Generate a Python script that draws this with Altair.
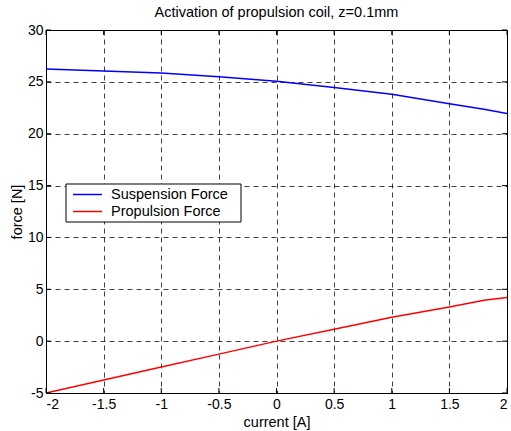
import altair as alt
import pandas as pd

# ---- data ----
current = [-2.0, -1.5, -1.0, -0.5, 0.0, 0.5, 1.0, 1.5, 1.8, 2.0]
suspension = [26.25, 26.05, 25.85, 25.5, 25.05, 24.45, 23.8, 22.9, 22.35, 21.95]
propulsion = [-5.0, -3.75, -2.5, -1.25, 0.0, 1.15, 2.3, 3.3, 3.94, 4.2]
series_names = ["Suspension Force", "Propulsion Force"]
series_colors = ["#0000FF", "#FF0000"]
x_ticks = [-2, -1.5, -1, -0.5, 0, 0.5, 1, 1.5, 2]
y_ticks = [-5, 0, 5, 10, 15, 20, 25, 30]
title_text = "Activation of propulsion coil, z=0.1mm"
x_title = "current [A]"
y_title = "force [N]"

W, H = 461, 363
FONT = "Liberation Sans"
FS = 14.5
LFS = 14

rows = []
for c, s, p in zip(current, suspension, propulsion):
    rows.append({"current": c, "force": s, "series": series_names[0]})
    rows.append({"current": c, "force": p, "series": series_names[1]})
df = pd.DataFrame(rows)

xs = alt.Scale(domain=[-2, 2], nice=False, zero=False)
ys = alt.Scale(domain=[-5, 30], nice=False, zero=False)

common_axis = dict(
    labelExpr="'' + datum.value", grid=True, gridDash=[5, 4], gridColor="#000",
    gridOpacity=0.75, tickSize=0, labelFont=FONT, titleFont=FONT, labelFontSize=LFS,
    titleFontSize=FS, labelColor="black", titleColor="black", titleFontWeight="normal",
    domainColor="black", domainWidth=1,
)

lines = alt.Chart(df).mark_line(strokeWidth=1.5, clip=True).encode(
    x=alt.X("current:Q", scale=xs,
            axis=alt.Axis(values=x_ticks, title=x_title, labelPadding=4, titlePadding=4,
                          **common_axis)),
    y=alt.Y("force:Q", scale=ys,
            axis=alt.Axis(values=y_ticks, title=y_title, labelPadding=3, titlePadding=3,
                          **common_axis)),
    color=alt.Color("series:N", scale=alt.Scale(domain=series_names, range=series_colors),
                    legend=None),
    detail="series:N",
)

xt = pd.DataFrame({"v": x_ticks})
yt = pd.DataFrame({"v": y_ticks})
tick_bottom = alt.Chart(xt).mark_rule(color="black").encode(
    x=alt.X("v:Q", scale=xs), y=alt.value(H), y2=alt.value(H - 5))
tick_top = alt.Chart(xt).mark_rule(color="black").encode(
    x=alt.X("v:Q", scale=xs), y=alt.value(0), y2=alt.value(5))
tick_left = alt.Chart(yt).mark_rule(color="black").encode(
    y=alt.Y("v:Q", scale=ys), x=alt.value(0), x2=alt.value(5))
tick_right = alt.Chart(yt).mark_rule(color="black").encode(
    y=alt.Y("v:Q", scale=ys), x=alt.value(W), x2=alt.value(W - 5))

# ---- legend box (MATLAB style) ----
lx0, lx1, ly0, ly1 = 20, 195, 154, 192
leg_df = pd.DataFrame({"name": series_names, "color": series_colors})
leg_box = alt.Chart(leg_df.head(1)).mark_rect(fill="white", stroke="black", strokeWidth=1).encode(
    x=alt.value(lx0), x2=alt.value(lx1), y=alt.value(ly0), y2=alt.value(ly1))
leg_layers = []
row_y = [164.5, 181.5]
for i, (n, c) in enumerate(zip(series_names, series_colors)):
    d = leg_df.iloc[[i]]
    leg_layers.append(alt.Chart(d).mark_rule(color=c, strokeWidth=1.5).encode(
        x=alt.value(27), x2=alt.value(56), y=alt.value(row_y[i])))
    leg_layers.append(alt.Chart(d).mark_text(align="left", baseline="middle", font=FONT,
                                             fontSize=FS, color="black").encode(
        x=alt.value(65), y=alt.value(row_y[i]), text="name:N"))

chart = alt.layer(lines, tick_bottom, tick_top, tick_left, tick_right, leg_box, *leg_layers).properties(
    width=W, height=H,
    background="white",
    title=alt.TitleParams(title_text, font=FONT, fontSize=FS, fontWeight="normal",
                          color="black", anchor="middle", offset=3),
    autosize=alt.AutoSizeParams(type="none"),
    padding={"left": 46, "top": 30, "right": 4, "bottom": 38},
).configure_view(stroke="black", strokeWidth=1)

chart.save("out.html", embed_options={"renderer": "svg", "actions": False})
